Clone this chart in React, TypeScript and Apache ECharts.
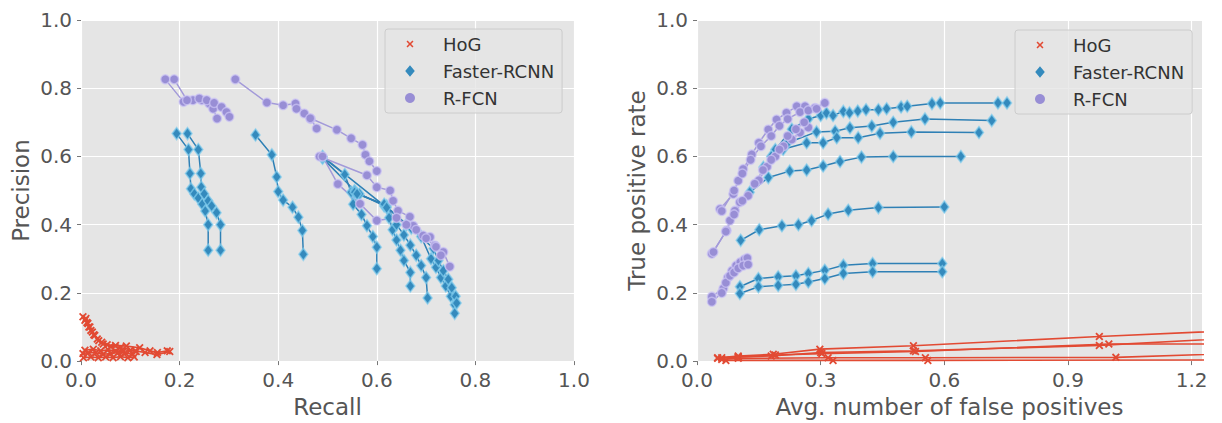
import { useEffect, useRef } from 'react';
import * as echarts from 'echarts';

// ---------- Left panel: precision vs recall ----------
const prHoG = [
  [[0.004,0.13],[0.008,0.12],[0.012,0.113],[0.016,0.1],[0.02,0.09],[0.026,0.077],[0.033,0.065],[0.042,0.055],[0.053,0.048],[0.07,0.046],[0.092,0.044],[0.119,0.039],[0.14,0.03],[0.155,0.025],[0.175,0.03]],
  [[0.01,0.125],[0.014,0.11],[0.018,0.1],[0.023,0.085],[0.028,0.075],[0.036,0.06],[0.045,0.05],[0.06,0.043],[0.08,0.04],[0.11,0.03],[0.13,0.025],[0.154,0.019],[0.18,0.028]],
  [[0.004,0.022],[0.015,0.025],[0.03,0.024],[0.045,0.02],[0.06,0.022],[0.075,0.025],[0.09,0.024],[0.105,0.02]],
  [[0.005,0.01],[0.02,0.012],[0.035,0.01],[0.05,0.012],[0.065,0.01],[0.08,0.013],[0.095,0.01],[0.108,0.012]],
  [[0.008,0.032],[0.025,0.035],[0.04,0.03],[0.055,0.033],[0.07,0.03],[0.085,0.028],[0.1,0.032],[0.112,0.028]],
];
const prFasterRcnn = [
  [[0.194,0.667],[0.218,0.62],[0.221,0.55],[0.223,0.505],[0.23,0.49],[0.238,0.478],[0.246,0.46],[0.252,0.44],[0.258,0.4],[0.258,0.325]],
  [[0.216,0.667],[0.238,0.62],[0.243,0.55],[0.244,0.51],[0.25,0.49],[0.258,0.47],[0.265,0.455],[0.275,0.435],[0.283,0.4],[0.283,0.325]],
  [[0.354,0.663],[0.387,0.605],[0.397,0.54],[0.4,0.497],[0.41,0.472],[0.429,0.451],[0.441,0.422],[0.449,0.383],[0.451,0.313]],
  [[0.49,0.598],[0.535,0.547],[0.548,0.495],[0.552,0.46],[0.569,0.43],[0.58,0.397],[0.592,0.365],[0.6,0.334],[0.6,0.271]],
  [[0.49,0.595],[0.555,0.5],[0.565,0.49],[0.615,0.455],[0.625,0.42],[0.632,0.385],[0.64,0.355],[0.648,0.325],[0.655,0.295],[0.668,0.26],[0.668,0.22]],
  [[0.555,0.495],[0.62,0.455],[0.64,0.4],[0.655,0.37],[0.668,0.34],[0.68,0.31],[0.69,0.28],[0.7,0.245],[0.703,0.185]],
  [[0.56,0.49],[0.615,0.46],[0.66,0.4],[0.69,0.365],[0.71,0.3],[0.72,0.275],[0.73,0.245],[0.74,0.22],[0.75,0.19],[0.758,0.165],[0.758,0.14]],
  [[0.49,0.6],[0.62,0.45],[0.67,0.39],[0.715,0.33],[0.725,0.295],[0.735,0.265],[0.745,0.24],[0.752,0.215],[0.76,0.19],[0.762,0.17]],
];
const prRfcn = [
  [[0.171,0.826],[0.208,0.76],[0.227,0.765],[0.245,0.765],[0.26,0.755],[0.268,0.74],[0.276,0.711]],
  [[0.189,0.826],[0.215,0.765],[0.24,0.77],[0.255,0.765],[0.27,0.757],[0.285,0.745],[0.295,0.73],[0.301,0.716]],
  [[0.313,0.826],[0.377,0.758],[0.41,0.75],[0.435,0.755],[0.453,0.726],[0.466,0.71],[0.478,0.682]],
  [[0.437,0.74],[0.465,0.712],[0.519,0.678],[0.548,0.653],[0.571,0.634],[0.577,0.605],[0.585,0.586],[0.6,0.557]],
  [[0.484,0.6],[0.58,0.545],[0.6,0.51],[0.627,0.5],[0.633,0.47],[0.643,0.441],[0.667,0.423],[0.674,0.397],[0.694,0.368],[0.708,0.364],[0.718,0.339],[0.735,0.32],[0.748,0.277]],
  [[0.49,0.6],[0.521,0.519],[0.566,0.461],[0.6,0.412],[0.64,0.42],[0.66,0.4],[0.68,0.385],[0.7,0.36],[0.72,0.335],[0.73,0.31]],
];

// ---------- Right panel: TPR vs avg. false positives ----------
const rocHoG = [
  [[0.05,0.01],[0.1,0.015],[0.185,0.02],[0.298,0.035],[0.525,0.045],[0.976,0.072],[1.5,0.1]],
  [[0.05,0.008],[0.1,0.012],[0.18,0.015],[0.3,0.025],[0.525,0.03],[0.976,0.046],[1.5,0.08]],
  [[0.06,0.01],[0.1,0.012],[0.19,0.018],[0.303,0.022],[0.53,0.028],[0.999,0.05],[1.5,0.05]],
  [[0.06,0.005],[0.1,0.008],[0.318,0.01],[0.554,0.01],[1.016,0.011],[1.5,0.03]],
  [[0.07,0.002],[0.33,0.002],[0.56,0.002],[1.5,0.004]],
];
const rocFasterRcnn = [
  [[0.19,0.62],[0.23,0.68],[0.27,0.71],[0.3,0.72],[0.314,0.727],[0.33,0.72],[0.355,0.732],[0.37,0.728],[0.39,0.733],[0.41,0.737],[0.44,0.737],[0.46,0.74],[0.495,0.745],[0.51,0.747],[0.57,0.755],[0.59,0.757],[0.73,0.757],[0.752,0.757]],
  [[0.18,0.6],[0.22,0.64],[0.29,0.672],[0.335,0.674],[0.371,0.684],[0.424,0.689],[0.476,0.7],[0.553,0.71],[0.715,0.705]],
  [[0.161,0.568],[0.209,0.621],[0.266,0.64],[0.306,0.64],[0.339,0.655],[0.391,0.655],[0.444,0.668],[0.52,0.672],[0.684,0.67]],
  [[0.128,0.495],[0.173,0.538],[0.225,0.557],[0.266,0.56],[0.306,0.572],[0.347,0.585],[0.399,0.598],[0.476,0.6],[0.64,0.6]],
  [[0.106,0.354],[0.151,0.385],[0.206,0.397],[0.246,0.4],[0.278,0.412],[0.318,0.431],[0.367,0.442],[0.44,0.45],[0.6,0.452]],
  [[0.104,0.218],[0.149,0.242],[0.197,0.247],[0.24,0.25],[0.27,0.257],[0.31,0.266],[0.355,0.281],[0.426,0.286],[0.595,0.286]],
  [[0.104,0.198],[0.149,0.218],[0.197,0.222],[0.24,0.225],[0.27,0.232],[0.31,0.242],[0.355,0.257],[0.426,0.262],[0.595,0.262]],
];
const rocRfcn = [
  [[0.056,0.446],[0.088,0.49],[0.1,0.529],[0.112,0.563],[0.133,0.606],[0.15,0.64],[0.173,0.679],[0.193,0.708],[0.217,0.728],[0.242,0.747],[0.262,0.747],[0.286,0.742],[0.31,0.757]],
  [[0.06,0.44],[0.09,0.5],[0.11,0.55],[0.13,0.59],[0.155,0.63],[0.18,0.66],[0.2,0.69],[0.22,0.71],[0.25,0.73],[0.27,0.735],[0.29,0.74]],
  [[0.036,0.315],[0.072,0.383],[0.08,0.412],[0.092,0.441],[0.104,0.466],[0.124,0.485],[0.15,0.53],[0.17,0.57],[0.19,0.6],[0.21,0.63],[0.23,0.65],[0.25,0.67],[0.27,0.685]],
  [[0.04,0.32],[0.07,0.38],[0.09,0.43],[0.11,0.47],[0.14,0.52],[0.16,0.56],[0.18,0.59],[0.2,0.62],[0.22,0.66],[0.24,0.68],[0.26,0.7]],
  [[0.036,0.189],[0.064,0.213],[0.075,0.245],[0.085,0.265],[0.095,0.28],[0.105,0.29],[0.115,0.298],[0.122,0.302]],
  [[0.036,0.174],[0.06,0.2],[0.07,0.23],[0.08,0.25],[0.09,0.26],[0.1,0.272],[0.112,0.28],[0.124,0.283]],
];

const leftTicks = [0, 0.2, 0.4, 0.6, 0.8, 1.0];
const rightXTicks = [0, 0.3, 0.6, 0.9, 1.2];
const methodNames = ['HoG', 'Faster-RCNN', 'R-FCN'];

// ---------- styles ----------
const RED = '#E24A33';
const BLUE = '#348ABD';
const PURPLE = '#988ED5';
const FONT = 'DejaVu Sans';

const X_SYMBOL = 'path://M0,1.6L1.6,0L5,3.4L8.4,0L10,1.6L6.6,5L10,8.4L8.4,10L5,6.6L1.6,10L0,8.4L3.4,5Z';
const DOTS = 'M0,0L0.01,0L0,0.01Z M12,12L12.01,12L12,12.01Z ';
const X_ICON = 'path://' + DOTS + 'M2.5,3.6L3.6,2.5L6,4.9L8.4,2.5L9.5,3.6L7.1,6L9.5,8.4L8.4,9.5L6,7.1L3.6,9.5L2.5,8.4L4.9,6Z';
const D_ICON = 'path://' + DOTS + 'M6,0.2L10.8,6L6,11.8L1.2,6Z';
const circlePts: string[] = [];
for (let i = 0; i < 20; i++) {
  const a = (i / 20) * Math.PI * 2;
  circlePts.push(`${(6 + 5 * Math.cos(a)).toFixed(2)},${(6 + 5 * Math.sin(a)).toFixed(2)}`);
}
const C_ICON = 'path://' + DOTS + 'M' + circlePts.join('L') + 'Z';

const styles: Record<string, any> = {
  'HoG': { symbol: X_SYMBOL, symbolSize: 8, line: { color: RED, width: 1.6 }, item: { color: RED } },
  'Faster-RCNN': {
    symbol: 'diamond', symbolSize: [9, 12],
    line: { color: '#2f80b5', width: 1.5 },
    item: { color: BLUE, borderColor: 'rgba(130,205,238,0.7)', borderWidth: 1.6 },
  },
  'R-FCN': {
    symbol: 'circle', symbolSize: 9,
    line: { color: '#a39ad9', width: 1.5 },
    item: { color: PURPLE, borderColor: 'rgba(205,198,245,0.7)', borderWidth: 1.5 },
  },
};

function curves(name: string, list: number[][][], idx: number) {
  const s = styles[name];
  return list.map((c) => ({
    type: 'line',
    name,
    xAxisIndex: idx,
    yAxisIndex: idx,
    data: c,
    symbol: s.symbol,
    symbolSize: s.symbolSize,
    showSymbol: true,
    showAllSymbol: true,
    clip: true,
    silent: true,
    lineStyle: s.line,
    itemStyle: s.item,
    emphasis: { disabled: true },
  }));
}

const fmt = (v: number) => v.toFixed(1);
const tickStyle = { show: true, length: 4, lineStyle: { color: '#777', width: 1 } };
const labelStyle = { color: '#555', fontSize: 20, fontFamily: FONT, margin: 9, formatter: fmt };

function axis(extra: any) {
  return {
    type: 'value',
    axisLine: { show: false },
    axisTick: tickStyle,
    axisLabel: labelStyle,
    splitLine: { show: true, lineStyle: { color: '#ffffff', width: 1.2 } },
    nameLocation: 'middle',
    nameTextStyle: { color: '#555', fontSize: 23, fontFamily: FONT },
    ...extra,
  };
}

function legend(left: number, top: number) {
  return {
    left, top,
    orient: 'vertical',
    data: [
      { name: methodNames[0], icon: X_ICON },
      { name: methodNames[1], icon: D_ICON },
      { name: methodNames[2], icon: C_ICON },
    ],
    itemWidth: 12,
    itemHeight: 12,
    itemGap: 7,
    padding: [5, 8, 5, 19],
    backgroundColor: 'rgba(229,229,229,0.8)',
    borderColor: '#cccccc',
    borderWidth: 1,
    borderRadius: 3,
    selectedMode: false,
    itemStyle: { borderWidth: 0 },
    textStyle: { color: '#333', fontSize: 18, fontFamily: FONT, lineHeight: 20, padding: [0, 0, 0, 22] },
  };
}

export default function App() {
  const ref = useRef<HTMLDivElement>(null);
  useEffect(() => {
    const chart = echarts.init(ref.current!, null, { renderer: 'svg' });
    chart.setOption({
      animation: false,
      backgroundColor: '#ffffff',
      grid: [
        { left: 81, top: 20, width: 493, height: 343, show: true, backgroundColor: '#E5E5E5', borderWidth: 0 },
        { left: 697, top: 20, width: 505, height: 343, show: true, backgroundColor: '#E5E5E5', borderWidth: 0 },
      ],
      xAxis: [
        axis({ gridIndex: 0, min: 0, max: 1, interval: 0.2, name: 'Recall', nameGap: 30,
          axisLabel: { ...labelStyle, customValues: leftTicks },
          axisTick: { ...tickStyle, customValues: leftTicks } }),
        axis({ gridIndex: 1, min: 0, max: 1.225, interval: 0.3, name: 'Avg. number of false positives', nameGap: 30,
          axisLabel: { ...labelStyle, customValues: rightXTicks },
          axisTick: { ...tickStyle, customValues: rightXTicks } }),
      ],
      yAxis: [
        axis({ gridIndex: 0, min: 0, max: 1, interval: 0.2, name: 'Precision', nameGap: 49 }),
        axis({ gridIndex: 1, min: 0, max: 1, interval: 0.2, name: 'True positive rate', nameGap: 49 }),
      ],
      legend: [legend(385, 29), legend(1015, 30)],
      series: [
        ...curves('HoG', prHoG, 0),
        ...curves('Faster-RCNN', prFasterRcnn, 0),
        ...curves('R-FCN', prRfcn, 0),
        ...curves('HoG', rocHoG, 1),
        ...curves('Faster-RCNN', rocFasterRcnn, 1),
        ...curves('R-FCN', rocRfcn, 1),
      ],
    });
    return () => chart.dispose();
  }, []);
  return (
    <div
      ref={ref}
      style={{ position: 'fixed', left: 0, top: 0, width: 1222, height: 423, background: '#fff' }}
    />
  );
}
